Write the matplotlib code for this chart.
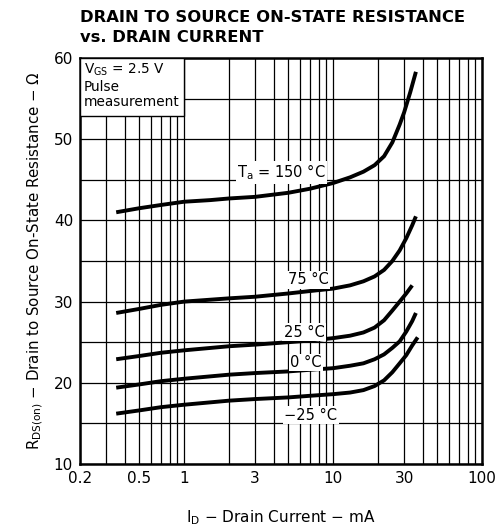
import numpy as np
import matplotlib
matplotlib.use("Agg")
import matplotlib.pyplot as plt
from matplotlib.patches import Rectangle

# curves (ID in mA, RDS(on) in ohm)
x_150 = [0.35, 0.5, 0.7, 1, 1.5, 2, 3, 5, 7, 10, 13, 16, 19, 22, 25, 28, 30, 33, 36]
y_150 = [41.0, 41.5, 41.9, 42.3, 42.5, 42.7, 42.9, 43.4, 43.9, 44.6, 45.3, 46.0, 46.8, 47.9, 49.6, 51.8, 53.3, 55.8, 58.3]

x_75 = [0.35, 0.5, 0.7, 1, 2, 3, 5, 7, 10, 13, 16, 19, 22, 25, 28, 31, 34, 36]
y_75 = [28.6, 29.1, 29.6, 30.0, 30.4, 30.6, 31.0, 31.3, 31.6, 32.0, 32.5, 33.1, 33.9, 35.0, 36.3, 37.8, 39.4, 40.5]

x_25 = [0.35, 0.5, 0.7, 1, 2, 3, 5, 7, 10, 13, 16, 19, 22, 25, 28, 31, 34]
y_25 = [22.9, 23.3, 23.7, 24.0, 24.5, 24.7, 25.0, 25.2, 25.5, 25.8, 26.2, 26.8, 27.7, 28.9, 30.0, 31.0, 32.0]

x_0 = [0.35, 0.5, 0.7, 1, 2, 3, 5, 7, 10, 13, 16, 19, 22, 25, 28, 31, 34, 36]
y_0 = [19.4, 19.8, 20.2, 20.5, 21.0, 21.2, 21.4, 21.6, 21.8, 22.1, 22.4, 22.9, 23.5, 24.3, 25.1, 26.3, 27.6, 28.6]

x_m25 = [0.35, 0.5, 0.7, 1, 2, 3, 5, 7, 10, 13, 16, 19, 22, 25, 28, 31, 34, 37]
y_m25 = [16.2, 16.6, 17.0, 17.3, 17.8, 18.0, 18.2, 18.4, 18.6, 18.8, 19.1, 19.6, 20.3, 21.3, 22.4, 23.4, 24.6, 25.6]

curve_labels = [r"T$_{\rm a}$ = 150 °C", "75 °C", "25 °C", "0 °C", "−25 °C"]
label_pos = [(4.5, 45.9), (6.8, 32.7), (6.4, 26.2), (6.6, 22.5), (7.1, 16.0)]

xtick_vals = [0.2, 0.5, 1, 3, 10, 30, 100]
xtick_text = ["0.2", "0.5", "1", "3", "10", "30", "100"]
xgrid = [0.3, 0.4, 0.6, 0.7, 0.8, 0.9, 2, 4, 5, 6, 7, 8, 9, 20, 40, 50, 60, 70, 80, 90]
ytick_vals = [10, 20, 30, 40, 50, 60]
ygrid = [15, 25, 35, 45, 55]

fig = plt.figure(figsize=(5.04, 5.31), dpi=100)
ax = fig.add_axes([80/504, 1-464/531, 402/504, 406/531])

ax.set_xscale("log")
ax.set_xlim(0.2, 100)
ax.set_ylim(10, 60)

ax.set_xticks(xtick_vals)
ax.set_xticklabels(xtick_text)
ax.set_xticks(xgrid, minor=True)
ax.set_xticklabels([], minor=True)
ax.set_yticks(ytick_vals)
ax.set_yticks(ygrid, minor=True)
ax.tick_params(which="both", length=0, labelsize=11, pad=5)
ax.grid(which="both", color="black", linewidth=0.9)
ax.set_axisbelow(True)
for s in ax.spines.values():
    s.set_linewidth(1.8)

for xs, ys in [(x_150, y_150), (x_75, y_75), (x_25, y_25), (x_0, y_0), (x_m25, y_m25)]:
    ax.plot(xs, ys, color="black", linewidth=2.8, solid_capstyle="butt")

for txt, (px, py) in zip(curve_labels, label_pos):
    ax.text(px, py, txt, ha="center", va="center", fontsize=10.5,
            bbox=dict(facecolor="white", edgecolor="none", pad=1.0))

# conditions box in upper left
ax.add_patch(Rectangle((0.2, 52.9), 0.8, 7.1, facecolor="white",
                       edgecolor="black", linewidth=1.0, zorder=3))
ax.text(0.213, 59.5, "V$_{\\rm GS}$ = 2.5 V\nPulse\nmeasurement", ha="left", va="top",
        fontsize=9.8, linespacing=1.1, zorder=4)

ax.set_xlabel(r"I$_{\rm D}$ − Drain Current − mA", fontsize=11, labelpad=16)
ax.set_ylabel(r"R$_{\rm DS(on)}$ − Drain to Source On-State Resistance − Ω", fontsize=10.8, labelpad=6)

fig.text(80/504, 1-17/531, "DRAIN TO SOURCE ON-STATE RESISTANCE", fontsize=11.8,
         fontweight="bold", ha="left", va="center")
fig.text(80/504, 1-37/531, "vs. DRAIN CURRENT", fontsize=11.8,
         fontweight="bold", ha="left", va="center")

fig.savefig("out.png", dpi=100)
